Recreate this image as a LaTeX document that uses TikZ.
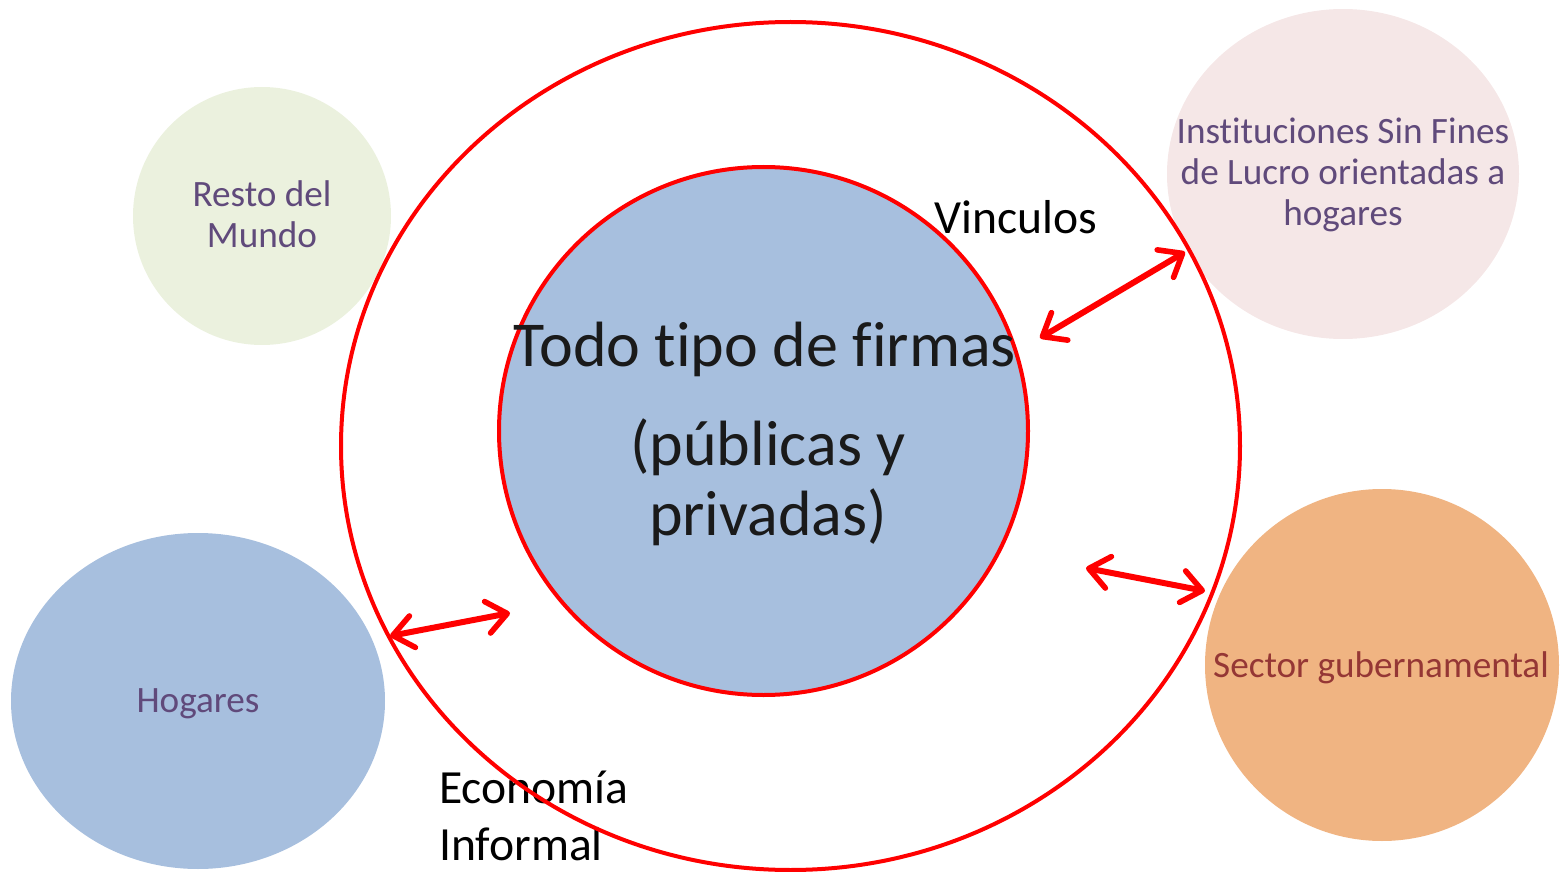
\documentclass[tikz,border=0pt]{standalone}
\usepackage{fontspec}
\setmainfont{Carlito}[Ligatures=NoCommon]
\usetikzlibrary{shapes.geometric,arrows.meta}
\definecolor{cgreen}{HTML}{EBF1DE}
\definecolor{cpink}{HTML}{F5E7E7}
\definecolor{cblue}{HTML}{A7BFDE}
\definecolor{corange}{HTML}{F0B482}
\definecolor{cpurple}{HTML}{604A7B}
\definecolor{cdred}{HTML}{953735}
\definecolor{cred}{HTML}{FF0000}
\definecolor{ctext}{HTML}{1A1A1A}
\tikzset{
  blob/.style={ellipse, inner sep=0pt},
  lbl/.style={align=center, font=\fontsize{18.6}{20.5}\selectfont, text=cpurple},
  ring/.style={ellipse, draw=cred, line width=2pt, inner sep=0pt},
  link/.style={draw=cred, line width=3pt, line cap=round, {Straight Barb[length=10pt,width=16pt,line width=2.8pt,round]}-{Straight Barb[length=10pt,width=16pt,line width=2.8pt,round]}}
}
\begin{document}
\begin{tikzpicture}[x=0.5pt,y=-0.5pt]
\useasboundingbox (0,0) rectangle (1560,872);
% outer satellites
\node[blob, fill=cgreen, minimum width=129pt, minimum height=129pt] (rm) at (262,216) {};
\node[lbl] (rmt) at (262,214) {Resto del\\Mundo};
\node[blob, fill=cpink, minimum width=176pt, minimum height=165pt] (isfl) at (1343,174) {};
\node[lbl] (isflt) at (1343,175) {Instituciones Sin Fines\\de Lucro orientadas a\\hogares};
\node[blob, fill=cblue, minimum width=187pt, minimum height=168pt] (hog) at (198,701) {};
\node[lbl] (hogt) at (198,704) {Hogares};
\node[blob, fill=corange, minimum width=177pt, minimum height=176pt] (sg) at (1382,665) {};
\node[lbl, text=cdred] (sgt) at (1381,668) {Sector gubernamental};
% inner circle
\node[ring, fill=cblue, minimum width=264.5pt, minimum height=264pt] (firm) at (763.5,431) {};
\node[font=\fontsize{32}{35}\selectfont, text=ctext] (t1) at (765,349) {Todo tipo de firmas};
\node[font=\fontsize{32}{35}\selectfont, text=ctext, align=center] (t2) at (768,482) {(públicas y\\privadas)};
% labels
\node[font=\fontsize{23.8}{28.5}\selectfont, text=black] (vin) at (1016,217) {Vinculos};
\node[font=\fontsize{23.8}{28.5}\selectfont, text=black, align=left, anchor=west] (eco) at (432,816) {Economía\\Informal};
% outer ring
\node[ring, minimum width=449.5pt, minimum height=424pt] (econ) at (790.5,446) {};
% links
\coordinate (a1) at (1040,338);
\coordinate (b1) at (1185,252);
\coordinate (a2) at (1086,568);
\coordinate (b2) at (1205,591);
\coordinate (a3) at (390,636);
\coordinate (b3) at (510,613);
\draw[link] (a1) -- (b1);
\draw[link] (a2) -- (b2);
\draw[link] (a3) -- (b3);
\end{tikzpicture}
\end{document}
